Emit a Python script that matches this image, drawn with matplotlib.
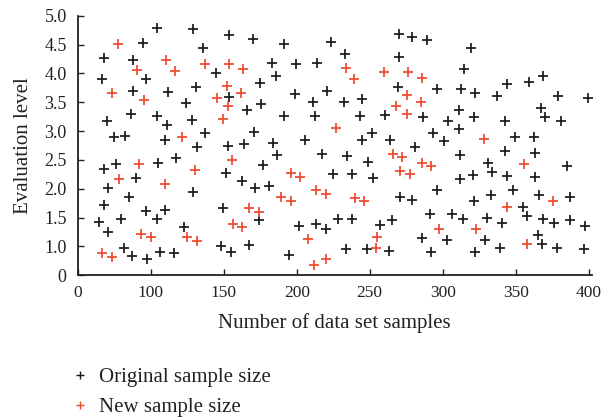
import matplotlib
matplotlib.use("Agg")
import matplotlib.pyplot as plt
from matplotlib.lines import Line2D

plt.rcParams["font.family"] = ["Liberation Serif", "DejaVu Serif"]

# Original sample size (black)
orig_x = [104.5, 129.1, 153.5, 94.9, 135.9, 68.1, 88.1, 144.6, 66.9, 96.6,
          130.7, 88.1, 111.6, 153.3, 123.9, 166.0, 86.3, 104.1, 69.9, 128.0,
          110.9, 137.1, 74.9, 82.4, 109.5, 131.8, 152.8, 163.7,
          169.8, 191.5, 223.8, 269.8, 279.3, 232.9, 270.0, 183.0, 199.2, 214.2,
          185.8, 174.6, 269.3, 198.5, 220.6, 175.3, 210.8, 232.7, 244.5, 191.5,
          212.4, 243.4, 260.5, 171.0, 251.3, 184.0, 205.8, 244.5, 263.9, 281.0,
          288.9, 319.6, 314.6, 296.0, 312.4, 322.3, 344.2, 358.8, 369.0, 337.0,
          378.8, 399.5, 311.0, 286.6, 303.7, 321.2, 367.2, 370.1, 342.8, 380.9,
          311.4, 293.5, 301.2, 349.2, 362.6,
          67.6, 76.1, 105.2, 117.1, 151.6, 89.7, 162.5, 70.8, 129.1, 85.2,
          67.6, 96.8, 109.5, 149.4, 64.7, 79.9, 104.5, 70.4, 122.7, 81.8,
          87.0, 97.3, 106.1, 115.9, 147.8, 154.8, 167.1,
          186.4, 217.2, 234.2, 249.1, 176.7, 171.2, 180.8, 224.7, 237.7, 252.3,
          270.4, 279.1, 174.4, 201.5, 213.3, 219.9, 228.6, 237.7, 257.1, 265.5,
          194.6, 233.6, 247.9, 263.2,
          311.7, 342.4, 362.9, 385.2, 331.0, 334.0, 320.8, 311.7, 344.2, 363.1,
          296.4, 321.5, 332.9, 348.1, 366.3, 387.5, 354.9, 291.2, 306.4, 313.9,
          330.3, 340.4, 357.6, 368.6, 376.1, 387.5, 397.5, 285.5, 303.2, 329.2,
          365.2, 367.9, 339.0, 378.3, 397.1, 291.9, 321.9]
orig_y = [4.79, 4.77, 4.67, 4.53, 4.45, 4.27, 4.24, 4.01, 3.90, 3.90,
          3.77, 3.70, 3.68, 3.59, 3.48, 3.36, 3.30, 3.27, 3.17, 3.19,
          3.11, 2.97, 2.90, 2.92, 2.85, 2.73, 2.74, 2.78,
          4.60, 4.51, 4.55, 4.68, 4.64, 4.34, 4.29, 4.19, 4.16, 4.18,
          3.96, 3.84, 3.77, 3.64, 3.70, 3.47, 3.51, 3.51, 3.55, 3.26,
          3.26, 3.26, 3.28, 2.99, 2.96, 2.79, 2.85, 2.84, 2.84, 2.73,
          4.58, 4.45, 4.07, 3.73, 3.73, 3.66, 3.82, 3.85, 3.96, 3.61,
          3.61, 3.57, 3.37, 3.25, 3.17, 3.24, 3.40, 3.24, 3.17, 3.18,
          3.03, 2.96, 2.83, 2.90, 2.90,
          2.34, 2.43, 2.44, 2.53, 2.27, 2.18, 2.14, 2.01, 1.95, 1.85,
          1.71, 1.62, 1.64, 1.67, 1.43, 1.48, 1.48, 1.25, 1.34, 0.98,
          0.84, 0.79, 0.91, 0.88, 1.01, 0.90, 1.03,
          2.59, 2.60, 2.57, 2.46, 2.41, 2.01, 2.04, 2.26, 2.26, 2.18,
          1.85, 1.81, 1.46, 1.35, 1.39, 1.31, 1.48, 1.48, 1.37, 1.46,
          0.85, 0.96, 0.96, 0.92,
          2.59, 2.66, 2.62, 2.40, 2.45, 2.29, 2.24, 2.17, 2.23, 2.21,
          1.97, 1.79, 1.90, 1.98, 1.90, 1.86, 1.69, 1.56, 1.56, 1.48,
          1.49, 1.41, 1.53, 1.47, 1.41, 1.46, 1.36, 1.15, 1.11, 1.11,
          1.19, 1.04, 0.98, 0.98, 0.96, 0.91, 0.91]

# New sample size (red)
new_x = [77.7, 110.4, 90.8, 116.4, 136.9, 153.5, 163.0, 73.4, 95.6, 152.1,
         145.1, 162.1, 152.8, 149.4, 121.2,
         233.6, 239.3, 259.8, 276.4, 275.2, 267.7, 275.7, 226.7,
         286.1, 285.1, 328.3,
         92.2, 130.2, 155.3, 77.9, 109.5, 167.1, 156.2, 162.5, 93.6, 100.0,
         125.0, 131.8, 66.9, 73.4,
         265.7, 272.3, 270.7, 277.5, 196.0, 202.4, 213.3, 219.9, 189.4, 196.0,
         240.0, 246.3, 174.4, 207.4, 254.7, 254.0, 219.9, 211.5,
         285.5, 291.9, 355.6, 344.2, 375.9, 297.6, 323.0, 357.8]
new_y = [4.51, 4.24, 4.06, 4.05, 4.16, 4.16, 4.07, 3.66, 3.54, 3.78,
         3.58, 3.66, 3.44, 3.21, 2.90,
         4.10, 3.90, 4.02, 4.02, 3.63, 3.44, 3.29, 3.05,
         3.93, 3.51, 2.86,
         2.43, 2.33, 2.50, 2.17, 2.08, 1.66, 1.38, 1.33, 1.22, 1.17,
         1.16, 1.10, 0.88, 0.82,
         2.60, 2.55, 2.30, 2.25, 2.27, 2.21, 1.97, 1.91, 1.85, 1.79,
         1.84, 1.78, 1.60, 1.13, 1.16, 0.98, 0.79, 0.68,
         2.44, 2.40, 2.43, 1.69, 1.79, 1.30, 1.30, 1.04]

# axis is broken: first tick stands for 0 on both axes
x_ticks = [50, 100, 150, 200, 250, 300, 350, 400]
x_labels = ["0", "100", "150", "200", "250", "300", "350", "400"]
y_ticks = [0.5, 1.0, 1.5, 2.0, 2.5, 3.0, 3.5, 4.0, 4.5, 5.0]
y_labels = ["0", "1.0", "1.5", "2.0", "2.5", "3.0", "3.5", "4.0", "4.5", "5.0"]

BLACK = "#1a1a1a"
RED = "#ef4a2f"
TEXT = "#222222"

fig = plt.figure(figsize=(6.08, 4.17), dpi=100)
ax = fig.add_axes([0.128, 0.340, 0.845, 0.622])

ax.plot(orig_x, orig_y, linestyle="none", marker="+", color=BLACK,
        markersize=7, markeredgewidth=1.25)
ax.plot(new_x, new_y, linestyle="none", marker="+", color=RED,
        markersize=7, markeredgewidth=1.25)

ax.set_xlim(50, 402)
ax.set_ylim(0.5, 5.0)
ax.set_xticks(x_ticks)
ax.set_xticklabels(x_labels)
ax.set_yticks(y_ticks)
ax.set_yticklabels(y_labels)
ax.tick_params(direction="in", length=4, width=1, colors=TEXT)
ax.tick_params(axis="x", pad=7, labelsize=12.5)
ax.tick_params(axis="y", pad=8, labelsize=13)
for side in ["top", "right"]:
    ax.spines[side].set_visible(False)
for side in ["left", "bottom"]:
    ax.spines[side].set_linewidth(1.3)
    ax.spines[side].set_color(TEXT)

ax.set_xlabel("Number of data set samples", fontsize=15, color=TEXT, labelpad=9)
ax.set_ylabel("Evaluation level", fontsize=15, color=TEXT, labelpad=8)

handles = [
    Line2D([], [], linestyle="none", marker="+", color=BLACK, markersize=5.5, markeredgewidth=1.0),
    Line2D([], [], linestyle="none", marker="+", color=RED, markersize=5.5, markeredgewidth=1.0),
]
fig.legend(handles, ["Original sample size", "New sample size"],
           loc="upper left", bbox_to_anchor=(0.1145, 0.118), frameon=False,
           fontsize=15, handlelength=1.0, handletextpad=0.4, labelspacing=0.5,
           borderaxespad=0, borderpad=0, labelcolor=TEXT)

fig.savefig("out.png", dpi=100)
